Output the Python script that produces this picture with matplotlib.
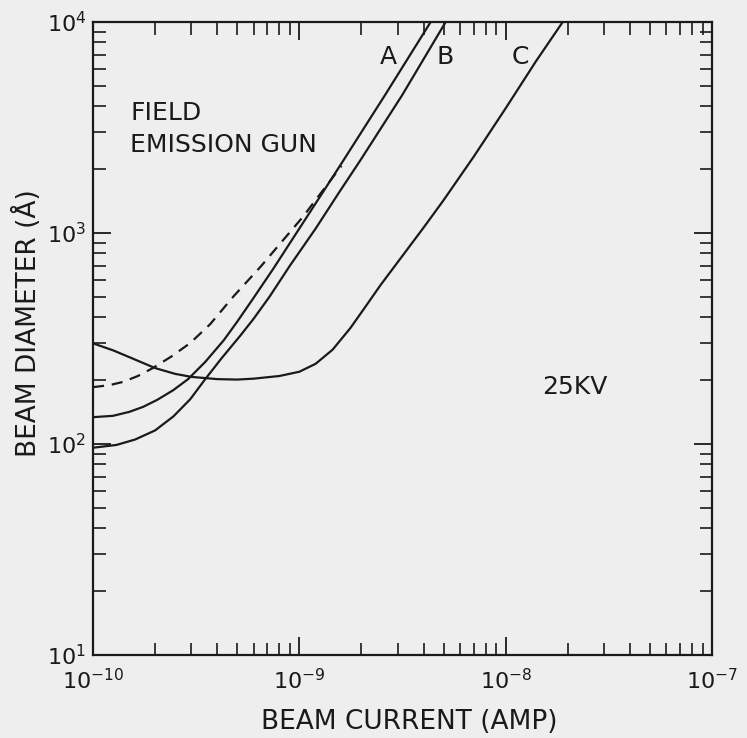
import numpy as np
import matplotlib
matplotlib.use("Agg")
from matplotlib import pyplot as plt
from matplotlib.ticker import FixedLocator, NullFormatter

# curve A (solid, left of the pair)
current_A = [1e-10, 1.25e-10, 1.5e-10, 1.75e-10, 2.05e-10, 2.45e-10, 2.89e-10, 3.5e-10, 4.3e-10,
             5.0e-10, 5.98e-10, 7.5e-10, 1.0e-9, 1.3e-9, 1.64e-9, 2.6e-9, 4.33e-9]
diam_A = [134, 136, 142, 150, 162, 180, 203, 245, 310, 380, 490, 680, 1050, 1560, 2218, 4500, 1e4]

# curve B
current_B = [1e-10, 1.3e-10, 1.6e-10, 2.0e-10, 2.45e-10, 2.96e-10, 3.5e-10, 4.2e-10, 5.16e-10,
             6.0e-10, 7.18e-10, 9.0e-10, 1.2e-9, 1.56e-9, 1.98e-9, 3.15e-9, 5.12e-9]
diam_B = [96, 99, 105, 116, 135, 163, 203, 255, 325, 392, 500, 700, 1050, 1560, 2218, 4500, 1e4]

# dashed curve, runs into A
current_dash = [1e-10, 1.2e-10, 1.4e-10, 1.65e-10, 1.95e-10, 2.4e-10, 2.96e-10, 3.7e-10, 4.79e-10,
                6.47e-10, 1.04e-9, 1.6e-9]
diam_dash = [186, 190, 197, 210, 229, 260, 301, 370, 500, 690, 1192, 2080]

# curve C (U-shaped)
current_C = [1e-10, 1.25e-10, 1.5e-10, 1.75e-10, 2e-10, 2.5e-10, 3e-10, 4e-10, 5e-10, 6e-10, 8e-10,
             1e-9, 1.2e-9, 1.45e-9, 1.77e-9, 2.1e-9, 2.47e-9, 3.1e-9, 4e-9, 5e-9, 7e-9, 1e-8, 1.4e-8, 1.89e-8]
diam_C = [300, 278, 258, 242, 229, 215, 208, 203, 202, 204, 210,
          220, 240, 280, 355, 450, 565, 760, 1060, 1430, 2300, 3900, 6500, 1e4]

x_major = [1e-10, 1e-9, 1e-8, 1e-7]
y_major = [1e1, 1e2, 1e3, 1e4]

bg = "#eeeeee"
ink = "#1a1a1a"
fig = plt.figure(figsize=(7.47, 7.38), dpi=100, facecolor=bg)
ax = fig.add_axes([93/747, 1-655/738, 619/747, 633/738])
ax.set_facecolor(bg)

lw = 1.6
ax.plot(current_A, diam_A, color=ink, lw=lw)
ax.plot(current_B, diam_B, color=ink, lw=lw)
ax.plot(current_C, diam_C, color=ink, lw=lw)
ax.plot(current_dash, diam_dash, color=ink, lw=lw, linestyle=(0, (5, 3.5)))

ax.set_xscale("log")
ax.set_yscale("log")
ax.set_xlim(1e-10, 1e-7)
ax.set_ylim(1e1, 1e4)

# only ticks inside the range
x_minor = [m * d for d in x_major[:-1] for m in range(2, 10)]
y_minor = [m * d for d in y_major[:-1] for m in range(2, 10)]
ax.xaxis.set_major_locator(FixedLocator(x_major))
ax.yaxis.set_major_locator(FixedLocator(y_major))
ax.xaxis.set_minor_locator(FixedLocator(x_minor))
ax.yaxis.set_minor_locator(FixedLocator(y_minor))
ax.set_xticklabels([r"$10^{-10}$", r"$10^{-9}$", r"$10^{-8}$", r"$10^{-7}$"])
ax.set_yticklabels([r"$10^{1}$", r"$10^{2}$", r"$10^{3}$", r"$10^{4}$"])
ax.xaxis.set_minor_formatter(NullFormatter())
ax.yaxis.set_minor_formatter(NullFormatter())

ax.tick_params(which="both", direction="in", top=True, right=True, color=ink,
               labelsize=16, labelcolor=ink)
ax.tick_params(which="major", length=13, width=1.3)
ax.tick_params(which="minor", length=9, width=1.2)
ax.tick_params(axis="x", which="major", pad=9)
ax.tick_params(axis="y", which="major", pad=5)
for s in ax.spines.values():
    s.set_linewidth(1.6)
    s.set_color(ink)

ax.set_xlabel("BEAM CURRENT (AMP)", fontsize=19, color=ink)
ax.set_ylabel("BEAM DIAMETER (Å)", fontsize=19, color=ink)
ax.xaxis.set_label_coords(0.511, -0.085)
ax.yaxis.set_label_coords(-0.082, 0.524)

ax.text(0.060, 0.856, "FIELD", transform=ax.transAxes, fontsize=18, va="center", color=ink)
ax.text(0.060, 0.806, "EMISSION GUN", transform=ax.transAxes, fontsize=18, va="center", color=ink)
ax.text(0.477, 0.945, "A", transform=ax.transAxes, fontsize=18, ha="center", va="center", color=ink)
ax.text(0.569, 0.945, "B", transform=ax.transAxes, fontsize=18, ha="center", va="center", color=ink)
ax.text(0.691, 0.945, "C", transform=ax.transAxes, fontsize=18, ha="center", va="center", color=ink)
ax.text(0.725, 0.423, "25KV", transform=ax.transAxes, fontsize=18, va="center", color=ink)

fig.savefig("out.png", dpi=100, facecolor=bg)
